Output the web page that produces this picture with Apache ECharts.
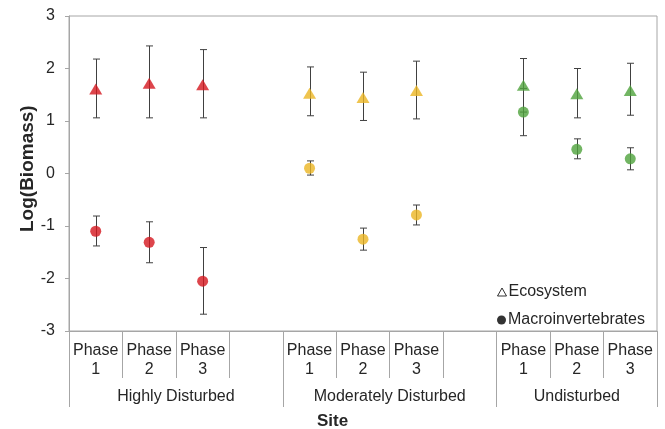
<!DOCTYPE html>
<html>
<head>
<meta charset="utf-8">
<script src="https://cdn.jsdelivr.net/npm/echarts@6/dist/echarts.min.js"></script>
<style>
  html, body { margin: 0; padding: 0; background: #fff; }
  #chart { width: 665px; height: 429px; }
</style>
</head>
<body>
<div id="chart"></div>
<script>
// Sites, phases and the colour used for each site
const sites = ['Highly Disturbed', 'Moderately Disturbed', 'Undisturbed'];
const phases = ['Phase\n1', 'Phase\n2', 'Phase\n3'];
const siteColors = ['#D5161E', '#EBB523', '#4FA23C'];

// Log(Biomass) per site (rows) and phase (columns)
const ecoMean  = [[1.61, 1.72, 1.69], [1.53, 1.45, 1.58], [1.68, 1.52, 1.58]];
const ecoUpper = [[2.18, 2.43, 2.36], [2.03, 1.93, 2.14], [2.19, 2.00, 2.10]];
const ecoLower = [[1.06, 1.06, 1.06], [1.10, 1.01, 1.04], [1.17, 1.06, 1.11]];

const macroMean  = [[-1.10, -1.31, -2.05], [0.10, -1.25, -0.79], [1.17, 0.46, 0.28]];
const macroUpper = [[-0.81, -0.92, -1.41], [0.24, -1.04, -0.60], [1.62, 0.66, 0.49]];
const macroLower = [[-1.38, -1.70, -2.68], [-0.03, -1.46, -0.98], [0.72, 0.28, 0.07]];

// Y axis ticks
const yMin = -3, yMax = 3, yStep = 1;

// Category slots: three phases per site plus an empty spacer between sites
const categories = [];
const slotOf = [];
sites.forEach((site, s) => {
  slotOf.push([]);
  phases.forEach((ph) => {
    slotOf[s].push(categories.length);
    categories.push(site + '|' + ph);
  });
  if (s < sites.length - 1) categories.push(site + '|');
});

// Group boundaries and centres in slot units
const groupEdges = [];
const groupCenters = [];
sites.forEach((site, s) => {
  const first = slotOf[s][0], last = slotOf[s][phases.length - 1];
  groupEdges.push(first - 0.5);
  const end = s < sites.length - 1 ? last + 1 : last;
  groupCenters.push((first - 0.5 + end + 0.5) / 2);
});
groupEdges.push(categories.length - 0.5);

function buildPoints(mean) {
  const out = [];
  sites.forEach((site, s) => phases.forEach((ph, p) => {
    out.push({ value: [slotOf[s][p], mean[s][p]], itemStyle: { color: siteColors[s] } });
  }));
  return out;
}
function buildBars(upper, lower) {
  const out = [];
  sites.forEach((site, s) => phases.forEach((ph, p) => {
    out.push([slotOf[s][p], upper[s][p], lower[s][p]]);
  }));
  return out;
}

const axisGray = '#A6A6A6';
const textColor = '#262626';
const font = 'Arial, "Liberation Sans", sans-serif';

function errorBarItem(params, api) {
  const x = api.value(0);
  const top = api.coord([x, api.value(1)]);
  const bot = api.coord([x, api.value(2)]);
  const cx = Math.round(top[0]) + 0.5;
  const cap = 3.5;
  const st = { stroke: '#404040', lineWidth: 1 };
  return {
    type: 'group',
    children: [
      { type: 'line', shape: { x1: cx, y1: top[1], x2: cx, y2: bot[1] }, style: st },
      { type: 'line', shape: { x1: cx - cap, y1: top[1], x2: cx + cap, y2: top[1] }, style: st },
      { type: 'line', shape: { x1: cx - cap, y1: bot[1], x2: cx + cap, y2: bot[1] }, style: st }
    ]
  };
}

const chart = echarts.init(document.getElementById('chart'), null, { renderer: 'canvas' });

chart.setOption({
  animation: false,
  backgroundColor: '#fff',
  textStyle: { fontFamily: font },
  grid: {
    left: 69, right: 8, top: 16, bottom: 98,
    show: true, borderColor: axisGray, borderWidth: 1, backgroundColor: 'transparent'
  },
  legend: [
    {
      data: [{ name: 'Ecosystem', icon: 'triangle',
               itemStyle: { color: '#fff', borderColor: '#000', borderWidth: 1 } }],
      left: 497, top: 284, padding: 0, itemWidth: 9, itemHeight: 8,
      textStyle: { fontSize: 16, color: textColor, fontFamily: font, padding: [0, 0, 0, -3] }
    },
    {
      data: [{ name: 'Macroinvertebrates', icon: 'circle', itemStyle: { color: '#000' } }],
      left: 497, top: 312, padding: 0, itemWidth: 9, itemHeight: 9,
      textStyle: { fontSize: 16, color: textColor, fontFamily: font, padding: [0, 0, 0, -3] }
    }
  ],
  xAxis: [
    {
      type: 'category',
      data: categories,
      position: 'bottom',
      boundaryGap: true,
      axisLine: { show: true, onZero: false, lineStyle: { color: axisGray, width: 1 } },
      axisTick: { show: true, length: 47, interval: 0, lineStyle: { color: axisGray } },
      axisLabel: {
        interval: 0, margin: 10, fontSize: 16, lineHeight: 19, color: textColor, fontFamily: font,
        formatter: (v) => v.split('|')[1] || ''
      },
      splitLine: { show: false }
    },
    {
      type: 'value',
      position: 'bottom',
      min: -0.5, max: categories.length - 0.5,
      axisLine: { show: false, onZero: false },
      axisTick: { show: true, length: 76, customValues: groupEdges, lineStyle: { color: axisGray } },
      axisLabel: {
        show: true, margin: 58, fontSize: 16, color: textColor, fontFamily: font,
        customValues: groupCenters,
        formatter: (v) => {
          const i = groupCenters.findIndex((c) => Math.abs(c - v) < 1e-6);
          return i >= 0 ? sites[i] : '';
        }
      },
      splitLine: { show: false }
    }
  ],
  yAxis: {
    type: 'value',
    min: yMin, max: yMax, interval: yStep,
    axisLine: { show: true, onZero: false, lineStyle: { color: axisGray, width: 1 } },
    axisTick: { show: true, length: 4, lineStyle: { color: axisGray } },
    axisLabel: { fontSize: 16, color: textColor, margin: 14, fontFamily: font },
    splitLine: { show: false }
  },
  graphic: [
    {
      type: 'text', left: 'center', x: 0, top: 413,
      style: { text: 'Site', font: 'bold 17px ' + font, fill: textColor }
    },
    {
      type: 'text', rotation: Math.PI / 2, x: 18, y: 232,
      style: { text: 'Log(Biomass)', font: 'bold 19px ' + font, fill: textColor }
    }
  ],
  series: [
    {
      name: 'Ecosystem bars', type: 'custom', xAxisIndex: 0, z: 1,
      renderItem: errorBarItem, encode: { x: 0, y: [1, 2] },
      data: buildBars(ecoUpper, ecoLower), silent: true
    },
    {
      name: 'Macroinvertebrates bars', type: 'custom', xAxisIndex: 0, z: 1,
      renderItem: errorBarItem, encode: { x: 0, y: [1, 2] },
      data: buildBars(macroUpper, macroLower), silent: true
    },
    {
      name: 'Ecosystem', type: 'scatter', xAxisIndex: 0, z: 3,
      symbol: 'triangle', symbolSize: [13, 11],
      itemStyle: { color: '#000' },
      data: buildPoints(ecoMean)
    },
    {
      name: 'Macroinvertebrates', type: 'scatter', xAxisIndex: 0, z: 3,
      symbol: 'circle', symbolSize: 11,
      itemStyle: { color: '#000' },
      data: buildPoints(macroMean)
    }
  ]
});
</script>
</body>
</html>
